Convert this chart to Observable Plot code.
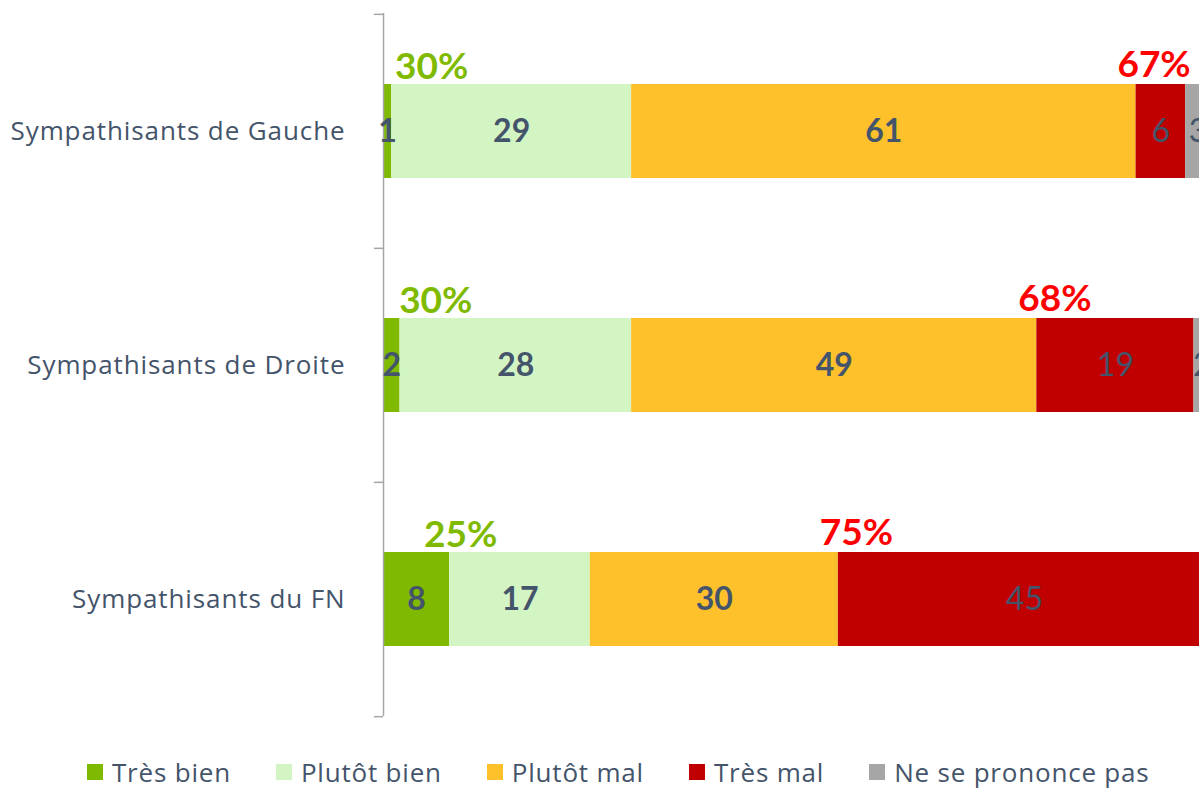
<!DOCTYPE html>
<html><head><meta charset="utf-8">
<script src="https://cdn.jsdelivr.net/npm/d3@7"></script>
<script src="https://cdn.jsdelivr.net/npm/@observablehq/plot@0.6"></script>
<style>
body{margin:0;background:#fff;overflow:hidden;font-family:"Open Sans",sans-serif}
#chart svg{display:block}
#legend{display:flex;align-items:center;padding-left:87px;height:48px;margin-top:8px;font-size:26px;letter-spacing:0.8px;color:#44546A;font-family:"Open Sans",sans-serif}
.item{display:flex;align-items:center;margin-right:45px}
.sw{width:16px;height:16px;margin-right:9px}
.cat{letter-spacing:0.9px}
</style></head><body><div id="chart"></div><div id="legend"></div>
<script>
const groups = ["Sympathisants de Gauche","Sympathisants de Droite","Sympathisants du FN"];
const answers = ["Très bien","Plutôt bien","Plutôt mal","Très mal","Ne se prononce pas"];
const colors = ["#7FBA00","#D3F5C4","#FFC12B","#C00000","#A6A6A6"];
const tresBien = [1,2,8];
const plutotBien = [29,28,17];
const plutotMal = [61,49,30];
const tresMal = [6,19,45];
const nsp = [3,2,0];
const totalBien = [30,30,25];
const totalMal = [67,68,75];

const series = [tresBien, plutotBien, plutotMal, tresMal, nsp];
const rows = [];
groups.forEach((g, i) => series.forEach((arr, j) => rows.push({group: g, answer: answers[j], value: arr[i]})));
const totals = groups.map((g, i) => ({
  group: g, bien: totalBien[i], mal: totalMal[i],
  tbMid: tresBien[i] / 2, malStart: totalBien[i] + plutotMal[i]
}));
const boldSet = new Set(answers.slice(0, 3));
const txt = "#44546A";
const halfStep = (716 - 13) / groups.length / 2;

const chart = Plot.plot({
  width: 1199, height: 740,
  marginLeft: 383, marginRight: 0, marginTop: 13, marginBottom: 24,
  style: {fontFamily: "Lato, sans-serif", background: "#fff", overflow: "hidden"},
  x: {domain: [0, 100], range: [383, 1210], axis: null},
  y: {domain: groups, paddingInner: 0.6, paddingOuter: 0.3, axis: null},
  color: {domain: answers, range: colors},
  marks: [
    Plot.barX(rows, Plot.stackX({x: "value", y: "group", fill: "answer", order: answers})),
    Plot.ruleX([0], {stroke: "#A6A6A6", strokeWidth: 1.5}),
    Plot.ruleY(groups, {y: d => d, x1: -1.1, x2: 0, dy: -halfStep, stroke: "#A6A6A6", strokeWidth: 1.5}),
    Plot.ruleY([groups[groups.length - 1]], {y: d => d, x1: -1.1, x2: 0, dy: halfStep, stroke: "#A6A6A6", strokeWidth: 1.5}),
    Plot.text(groups, {x: 0, y: d => d, text: d => d, textAnchor: "end", dx: -38, fontSize: 26,
      fontFamily: "Open Sans, sans-serif", fill: txt, className: "cat"}),
    Plot.text(rows, Plot.stackX({x: "value", y: "group", z: "answer", order: answers,
      text: d => (boldSet.has(d.answer) && d.value > 0) ? String(d.value) : null,
      fontSize: 32, fontWeight: "bold", fill: txt})),
    Plot.text(rows, Plot.stackX({x: "value", y: "group", z: "answer", order: answers,
      text: d => (!boldSet.has(d.answer) && d.value > 0) ? String(d.value) : null,
      fontSize: 32, fill: txt})),
    Plot.text(totals, {x: "tbMid", y: "group", text: d => d.bien + "%", dx: 44, dy: -64,
      fontSize: 37, fontWeight: "bold", fill: "#7FBA00"}),
    Plot.text(totals, {x: "malStart", y: "group", text: d => d.mal + "%", dx: 18, dy: -66,
      fontSize: 37, fontWeight: "bold", fill: "#FF0000"})
  ]
});
document.getElementById("chart").appendChild(chart);

const legend = document.getElementById("legend");
answers.forEach((a, i) => {
  const item = document.createElement("div");
  item.className = "item";
  const sw = document.createElement("span");
  sw.className = "sw";
  sw.style.background = colors[i];
  const lab = document.createElement("span");
  lab.textContent = a;
  item.appendChild(sw); item.appendChild(lab);
  legend.appendChild(item);
});
</script></body></html>
